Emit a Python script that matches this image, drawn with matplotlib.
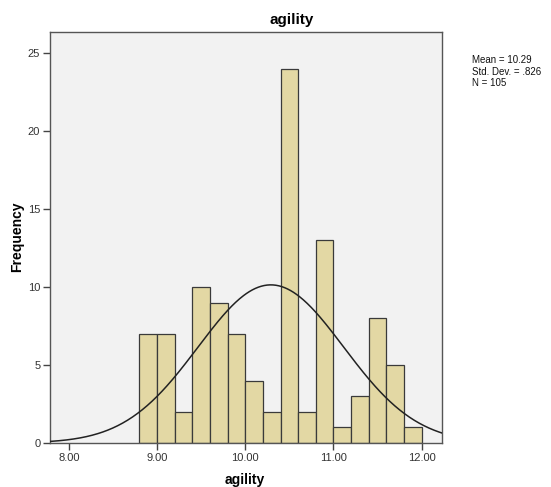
import numpy as np
import matplotlib
matplotlib.use('Agg')
import matplotlib.pyplot as plt

# histogram of agility (bin width 0.2)
bin_edges = [8.8, 9.0, 9.2, 9.4, 9.6, 9.8, 10.0, 10.2, 10.4, 10.6, 10.8, 11.0, 11.2, 11.4, 11.6, 11.8, 12.0]
counts = [7, 7, 2, 10, 9, 7, 4, 2, 24, 2, 13, 1, 3, 8, 5, 1]
mean_val = 10.29
std_val = 0.826
n_val = 105
x_ticks = [8.0, 9.0, 10.0, 11.0, 12.0]
x_tick_labels = ["8.00", "9.00", "10.00", "11.00", "12.00"]
y_ticks = [0, 5, 10, 15, 20, 25]

plt.rcParams['font.family'] = ['Liberation Sans', 'DejaVu Sans']

fig = plt.figure(figsize=(5.51, 4.87), dpi=100)
ax = fig.add_axes([0.0907, 0.0903, 0.7113, 0.8437])
ax.set_facecolor('#f2f2f2')

lefts = np.array(bin_edges[:-1])
widths = np.diff(bin_edges)
ax.bar(lefts, counts, width=widths, align='edge', color='#e3d8a4',
       edgecolor='#3a3a3a', linewidth=0.9, zorder=2)

# normal curve
xs = np.linspace(7.785, 12.23, 400)
bw = widths[0]
ys = n_val * bw / (std_val * np.sqrt(2 * np.pi)) * np.exp(-0.5 * ((xs - mean_val) / std_val) ** 2)
ax.plot(xs, ys, color='#222222', linewidth=1.1, zorder=3)

ax.set_xlim(7.785, 12.23)
ax.set_ylim(0, 26.35)
ax.set_xticks(x_ticks)
ax.set_xticklabels(x_tick_labels)
ax.set_yticks(y_ticks)
ax.tick_params(axis='both', direction='out', length=5, width=1, color='#444444',
               labelsize=8, labelcolor='#333333', pad=2)
for s in ax.spines.values():
    s.set_color('#555555')
    s.set_linewidth(1)

# axis labels placed at fixed spots like the reference
fig.text(245 / 551, 1 - 480 / 487, 'agility', fontsize=10, fontweight='bold',
         ha='center', va='center')
fig.text(17 / 551, 1 - 237 / 487, 'Frequency', fontsize=10, fontweight='bold',
         ha='center', va='center', rotation=90)
fig.text(292 / 551, 1 - 20 / 487, 'agility', fontsize=11, fontweight='bold',
         ha='center', va='center')

fig.text(472 / 551, 1 - 55 / 487,
         'Mean = 10.29\nStd. Dev. = .826\nN = 105',
         fontsize=7, ha='left', va='top', linespacing=1.2, color='#111111')

fig.savefig('out.png', dpi=100)
